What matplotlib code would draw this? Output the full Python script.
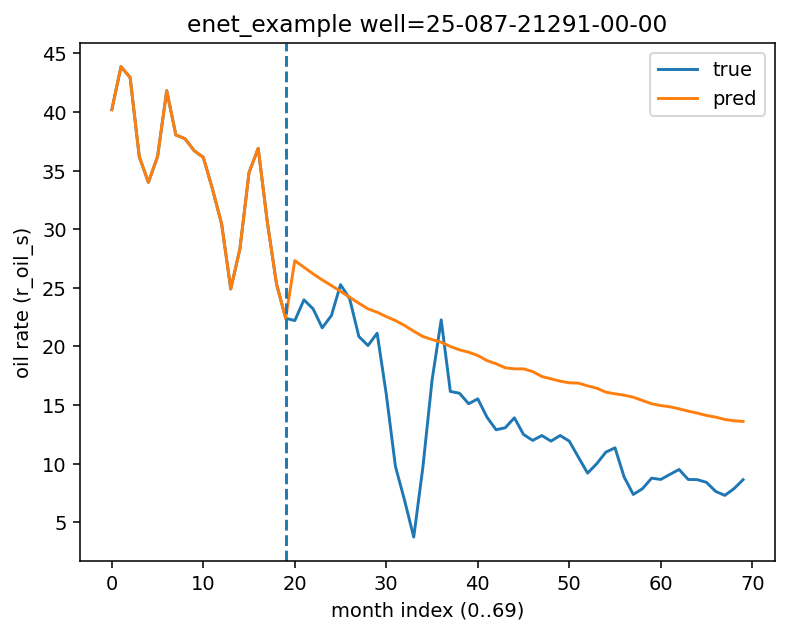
import numpy as np
import matplotlib
matplotlib.use("Agg")
import matplotlib.pyplot as plt

months = list(range(70))

true_vals = [
    40.2, 43.87, 42.95, 36.19, 34.0, 36.2, 41.82, 38.04, 37.72, 36.7,
    36.13, 33.43, 30.45, 24.9, 28.32, 34.85, 36.9, 30.59, 25.33, 22.4,
    22.2, 23.97, 23.2, 21.58, 22.63, 25.27, 24.05, 20.84, 20.07, 21.12,
    15.9, 9.75, 6.85, 3.72, 9.69, 17.09, 22.26, 16.15, 16.0, 15.1,
    15.52, 13.96, 12.88, 13.05, 13.9, 12.48, 11.97, 12.39, 11.91, 12.39,
    11.91, 10.54, 9.18, 9.98, 10.97, 11.34, 8.84, 7.36, 7.85, 8.75,
    8.64, 9.07, 9.49, 8.64, 8.62, 8.39, 7.62, 7.28, 7.85, 8.62,
]

pred_vals = true_vals[:20] + [
    27.32, 26.75, 26.19, 25.67, 25.19, 24.70, 24.19, 23.68, 23.2, 22.91,
    22.54, 22.2, 21.78, 21.29, 20.84, 20.58, 20.35, 19.99, 19.7, 19.5,
    19.22, 18.79, 18.51, 18.17, 18.08, 18.08, 17.85, 17.43, 17.23, 17.03,
    16.89, 16.86, 16.63, 16.43, 16.09, 15.95, 15.83, 15.66, 15.38, 15.1,
    14.95, 14.84, 14.67, 14.47, 14.3, 14.1, 13.96, 13.76, 13.65, 13.59,
]

split_index = 19

fig, ax = plt.subplots(figsize=(6.4, 4.8), dpi=140)
ax.plot(months, true_vals, label="true")
ax.plot(months, pred_vals, label="pred")
ax.axvline(split_index, linestyle="--")
ax.set_title("enet_example well=25-087-21291-00-00")
ax.set_xlabel("month index (0..69)")
ax.set_ylabel("oil rate (r_oil_s)")
ax.legend(loc="upper right")
fig.savefig("out.png", dpi=140, bbox_inches="tight")
